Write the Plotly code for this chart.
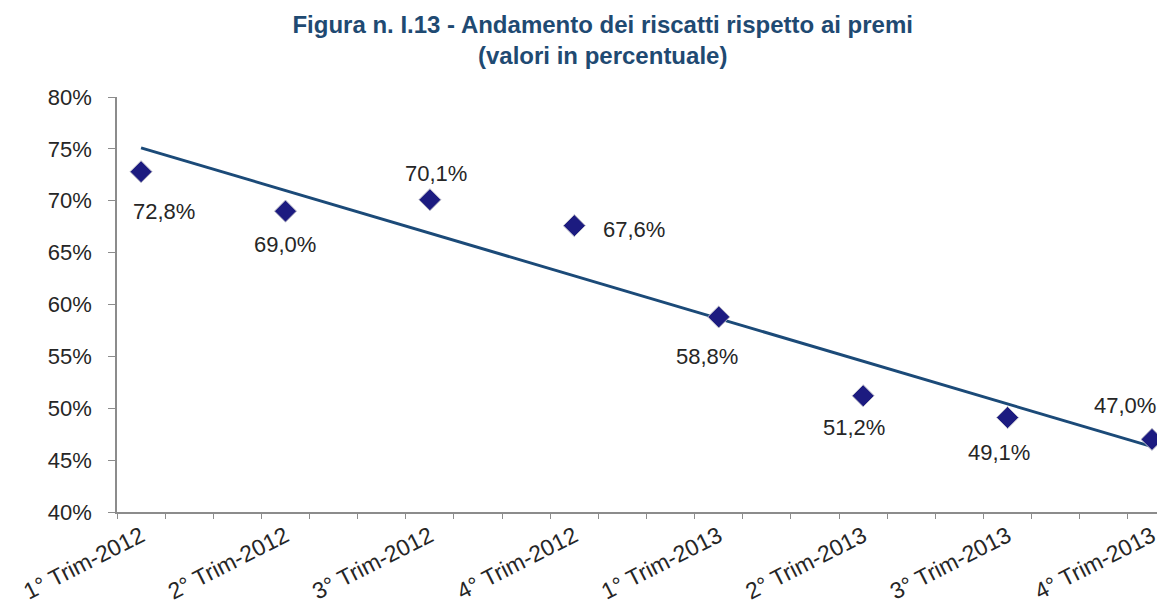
import numpy as np
import plotly.graph_objects as go

# quarters and share of surrenders over premiums (%)
quarters = ["1° Trim-2012", "2° Trim-2012", "3° Trim-2012", "4° Trim-2012",
            "1° Trim-2013", "2° Trim-2013", "3° Trim-2013", "4° Trim-2013"]
ratio = [72.8, 69.0, 70.1, 67.6, 58.8, 51.2, 49.1, 47.0]
value_labels = ["72,8%", "69,0%", "70,1%", "67,6%", "58,8%", "51,2%", "49,1%", "47,0%"]
y_ticks = [40, 45, 50, 55, 60, 65, 70, 75, 80]

x = np.arange(1, len(quarters) + 1)
# linear trend like the spreadsheet trendline
slope, intercept = np.polyfit(x, ratio, 1)
trend = slope * x + intercept

FONT = "Arial, Liberation Sans, sans-serif"
NAVY = "#1c1b80"
TXT = "#262626"
AXIS = "#8c8c8c"

# label offsets (px) relative to each marker
label_dx = [23, 0, 6, 60, -12, -9, -9, -27]
label_dy = [-40, -33, 26, -4, -40, -32, -35, 34]

fig = go.Figure()
fig.add_trace(go.Scatter(
    x=x, y=trend, mode="lines",
    line=dict(color="#1b4a78", width=3),
    hoverinfo="skip", showlegend=False,
))
fig.add_trace(go.Scatter(
    x=x, y=ratio, mode="markers",
    marker=dict(symbol="diamond", size=17, color=NAVY,
                line=dict(color="#c4c4cc", width=1)),
    cliponaxis=False, showlegend=False,
))

for xi, yi, txt, dx, dy in zip(x, ratio, value_labels, label_dx, label_dy):
    fig.add_annotation(x=xi, y=yi, text=txt, showarrow=False,
                       xshift=dx, yshift=dy,
                       font=dict(family=FONT, size=22, color=TXT))

# page body adds an 8px offset, so the figure is 8px smaller each way
fig.update_layout(
    width=1157, height=598,
    margin=dict(l=109, r=0, t=89, b=94),
    paper_bgcolor="white", plot_bgcolor="white",
    title=dict(
        text="Figura n. I.13 - Andamento dei riscatti rispetto ai premi<br>(valori in percentuale)",
        x=0.514, xref="container", xanchor="center", y=0.958, yanchor="top",
        font=dict(family=FONT, size=24, color="#1f4a72", weight="bold"),
    ),
    xaxis=dict(
        range=[1 - 1 / 6, 8.09],
        tickmode="array", tickvals=list(x), ticktext=quarters,
        tickangle=-27, ticks="", showgrid=False,
        showline=True, linecolor=AXIS, linewidth=1.5,
        tickfont=dict(family=FONT, size=23, color=TXT),
        minor=dict(tickmode="linear", tick0=1 - 1 / 6, dtick=1 / 3,
                   ticks="outside", ticklen=5, tickcolor=AXIS, showgrid=False),
        zeroline=False,
    ),
    yaxis=dict(
        range=[40, 80], tickvals=y_ticks,
        ticktext=[f"{v}%" for v in y_ticks],
        ticks="outside", ticklen=7, tickcolor=AXIS,
        showline=True, linecolor=AXIS, linewidth=1.5,
        showgrid=False, zeroline=False,
        ticklabelstandoff=12,
        tickfont=dict(family=FONT, size=22, color=TXT),
    ),
)

fig.write_html("out.html")
